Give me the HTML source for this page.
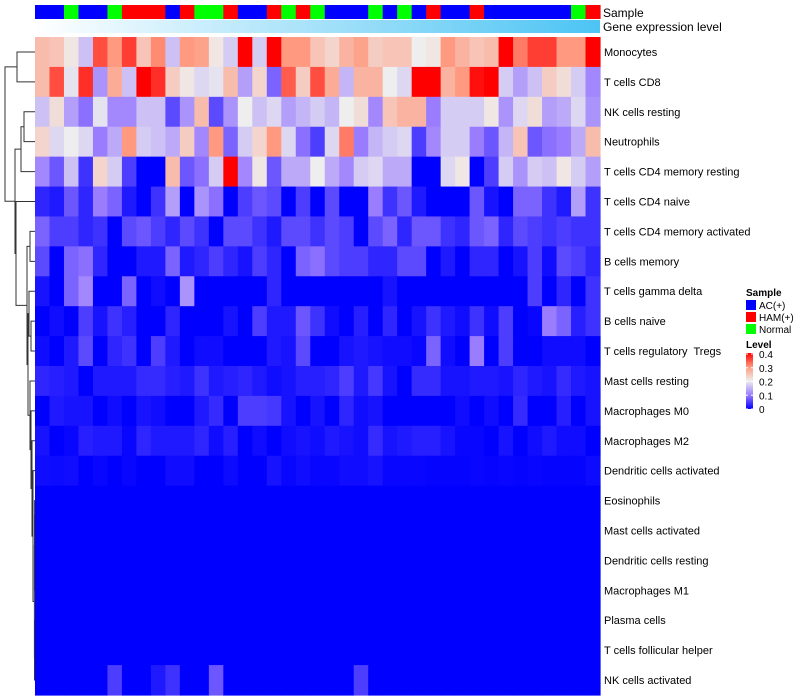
<!DOCTYPE html>
<html><head><meta charset="utf-8"><style>
body{margin:0;background:#fff;width:800px;height:700px;overflow:hidden;font-family:"Liberation Sans",sans-serif}
svg{display:block}
text{white-space:pre}
</style></head><body>
<svg id="chart" width="800" height="700" xmlns="http://www.w3.org/2000/svg">
<defs>
<linearGradient id="geneGrad" x1="0" x2="1" y1="0" y2="0"><stop offset="0" stop-color="#ffffff"/><stop offset="1" stop-color="#4cc4f4"/></linearGradient>
<linearGradient id="levelGrad" x1="0" x2="0" y1="1" y2="0"><stop offset="0" stop-color="#0000ff"/><stop offset="0.25" stop-color="#9a7cff"/><stop offset="0.5" stop-color="#eeeeee"/><stop offset="0.75" stop-color="#ff9a80"/><stop offset="1" stop-color="#ff0000"/></linearGradient>
</defs>
<g id="dendroG"></g>
<g id="cellsG"></g>
<g id="samplebarG"></g>
<rect x="35" y="20" width="565" height="13" fill="url(#geneGrad)"/>
<text x="603" y="17" font-size="12">Sample</text>
<text x="603" y="31" font-size="12">Gene expression level</text>
<g id="rowlabelsG"></g>
<g font-size="10">
<text x="746" y="296" font-weight="bold">Sample</text>
<rect x="746" y="300" width="10" height="10" fill="#0000ff"/>
<text x="759" y="309">AC(+)</text>
<rect x="746" y="312" width="10" height="10" fill="#ff0000"/>
<text x="759" y="321">HAM(+)</text>
<rect x="746" y="324" width="10" height="10" fill="#00ff00"/>
<text x="759" y="333">Normal</text>
<text x="746" y="348" font-weight="bold">Level</text>
<rect x="746" y="353" width="7" height="56" fill="url(#levelGrad)"/>
<g id="levelticksG"></g>
</g>
</svg>
<script>
const rowNames=["Monocytes","T cells CD8","NK cells resting","Neutrophils","T cells CD4 memory resting","T cells CD4 naive","T cells CD4 memory activated","B cells memory","T cells gamma delta","B cells naive","T cells regulatory  Tregs","Mast cells resting","Macrophages M0","Macrophages M2","Dendritic cells activated","Eosinophils","Mast cells activated","Dendritic cells resting","Macrophages M1","Plasma cells","T cells follicular helper","NK cells activated"];
const sampleGroups="AANAANHHHAHNNHAAHNHNAAANANAHAAHAAAAAANH".split("");
const levelTicks=[0,0.1,0.2,0.3,0.4];
const v0=[0.26,0.25,0.21,0.16,0.35,0.3,0.36,0.25,0.31,0.16,0.3,0.29,0.21,0.17,0.4,0.17,0.4,0.3,0.3,0.25,0.23,0.27,0.29,0.24,0.25,0.25,0.2,0.21,0.3,0.27,0.25,0.26,0.4,0.32,0.36,0.36,0.3,0.3,0.4];
const v1=[0.26,0.35,0.19,0.37,0.12,0.28,0.16,0.4,0.37,0.24,0.21,0.18,0.19,0.26,0.13,0.23,0.08,0.34,0.24,0.35,0.28,0.15,0.27,0.27,0.2,0.18,0.4,0.4,0.27,0.3,0.39,0.4,0.17,0.13,0.16,0.24,0.22,0.17,0.11];
const v2=[0.16,0.22,0.13,0.09,0.19,0.11,0.11,0.16,0.16,0.06,0.12,0.26,0.06,0.12,0.2,0.16,0.18,0.13,0.15,0.17,0.15,0.2,0.22,0.11,0.25,0.27,0.27,0.1,0.17,0.17,0.17,0.21,0.12,0.18,0.22,0.13,0.14,0.18,0.12];
const v3=[0.23,0.18,0.2,0.18,0.1,0.14,0.3,0.17,0.16,0.14,0.24,0.11,0.3,0.08,0.17,0.23,0.3,0.18,0.09,0.05,0.18,0.32,0.1,0.15,0.17,0.18,0.05,0.11,0.17,0.17,0.1,0.07,0.15,0.25,0.07,0.09,0.1,0.14,0.26];
const v4=[0.11,0.07,0.16,0.04,0.23,0.17,0.05,0,0,0.26,0.07,0.09,0.17,0.4,0.11,0.21,0.07,0.14,0.14,0.2,0.14,0.11,0.17,0.18,0.14,0.14,0,0,0.18,0.21,0,0.05,0.17,0.12,0.17,0.16,0.21,0.17,0.13];
const v5=[0.03,0.02,0.07,0.03,0.1,0.08,0.02,0,0.04,0.13,0,0.12,0.09,0,0.05,0.07,0.06,0,0.05,0,0.06,0,0,0.1,0.04,0.07,0.02,0,0,0,0.07,0.015,0,0.08,0.08,0.04,0.02,0.13,0.04];
const v6=[0.08,0.05,0.05,0.03,0.04,0,0.06,0.07,0.05,0.03,0.06,0.04,0,0.06,0.06,0.04,0.02,0.06,0.06,0.04,0.06,0.05,0,0.06,0.08,0.03,0.07,0.07,0.04,0.03,0.07,0.08,0.03,0.06,0.05,0.04,0.05,0.04,0.04];
const v7=[0.06,0,0.08,0.09,0.03,0,0,0.02,0.02,0.08,0.02,0.03,0.05,0.03,0.015,0.05,0.03,0,0.08,0.09,0.06,0.05,0.05,0.03,0.03,0.06,0.06,0,0.02,0,0.03,0.03,0,0.015,0.05,0.01,0.06,0.05,0.03];
const v8=[0.015,0,0.08,0.11,0,0,0.08,0,0.01,0,0.12,0,0,0,0,0,0.03,0,0,0,0,0,0,0,0.015,0,0,0,0,0,0,0,0,0,0.05,0,0.03,0,0.04];
const v9=[0,0.01,0,0.05,0.015,0.04,0.025,0,0,0.03,0,0,0,0.015,0,0.05,0.02,0.02,0.07,0.04,0.01,0,0.025,0,0.03,0,0.015,0.04,0.02,0.01,0.04,0.01,0.05,0,0.005,0.1,0.08,0.025,0.04];
const v10=[0.01,0,0.02,0.06,0,0.03,0.04,0,0.05,0.02,0,0.01,0.01,0,0,0,0.02,0.015,0.06,0,0,0.015,0.02,0.015,0.01,0.01,0.005,0.08,0.01,0,0.1,0,0.05,0,0,0.01,0.01,0.01,0];
const v11=[0.03,0.025,0.02,0,0.02,0.02,0.02,0.035,0.035,0.025,0.02,0.04,0.02,0.025,0.03,0.02,0.01,0.015,0.025,0.025,0.03,0.05,0.02,0.045,0.015,0,0.035,0.035,0.015,0.015,0.02,0.02,0.015,0.03,0.02,0.015,0.035,0.02,0.015];
const v12=[0,0.02,0.015,0.015,0,0.01,0,0.015,0.01,0,0,0.02,0.035,0,0.05,0.05,0.045,0.015,0,0.015,0,0.03,0.01,0.015,0,0,0,0,0,0.01,0,0.01,0,0.035,0,0,0.025,0,0.015];
const v13=[0.015,0,0.005,0.025,0.02,0.02,0.005,0.03,0.02,0.02,0.02,0.03,0.01,0.025,0,0.01,0,0.01,0.015,0.01,0.02,0.015,0.01,0.035,0.015,0.02,0.025,0.025,0.015,0.005,0.005,0,0.015,0,0.01,0.02,0.01,0.01,0];
const v14=[0.01,0.008,0.01,0,0.005,0,0.005,0,0,0.01,0.01,0,0,0.008,0,0,0.015,0.005,0.01,0.005,0.005,0.01,0.01,0.015,0.005,0.005,0.005,0.003,0.003,0.003,0.005,0.003,0.005,0.003,0.005,0.003,0.003,0.003,0.008];
const zeroRow=[0,0,0,0,0,0,0,0,0,0,0,0,0,0,0,0,0,0,0,0,0,0,0,0,0,0,0,0,0,0,0,0,0,0,0,0,0,0,0];
const v21=[0,0,0,0,0,0.05,0,0,0.02,0.04,0,0,0.07,0,0,0,0,0,0,0,0,0,0.05,0,0,0,0,0,0,0,0,0,0,0,0,0,0,0,0];
const heatValues=[v0,v1,v2,v3,v4,v5,v6,v7,v8,v9,v10,v11,v12,v13,v14,zeroRow,zeroRow,zeroRow,zeroRow,zeroRow,zeroRow,v21];

const SVGNS="http://www.w3.org/2000/svg";
const X0=35,X1=600,Y0=37,Y1=695;
const nCol=sampleGroups.length,nRow=rowNames.length;
const cw=(X1-X0)/nCol,rh=(Y1-Y0)/nRow;
function xPos(i){return X0+i*cw;}
function yPos(r){return Y0+r*rh;}
const colorStops=[[0,[0,0,255]],[0.1,[154,124,255]],[0.2,[238,238,238]],[0.3,[255,154,128]],[0.4,[255,0,0]]];
function colorScale(v){
  v=Math.max(0,Math.min(0.4,v));
  for(let k=0;k<colorStops.length-1;k++){
    const a=colorStops[k][0],ca=colorStops[k][1],b=colorStops[k+1][0],cb=colorStops[k+1][1];
    if(v<=b){const t=(v-a)/(b-a);return "rgb("+ca.map(function(c,j){return Math.round(c+(cb[j]-c)*t);}).join(",")+")";}
  }
  return "rgb(255,0,0)";
}
function mk(tag,attrs,parent){const e=document.createElementNS(SVGNS,tag);for(const k in attrs)e.setAttribute(k,attrs[k]);parent.appendChild(e);return e;}
const cellsG=document.getElementById("cellsG");
heatValues.forEach(function(row,r){row.forEach(function(v,c){
  const el=mk("rect",{x:xPos(c).toFixed(2),y:yPos(r).toFixed(2),width:(cw+0.6).toFixed(2),height:(rh+0.6).toFixed(2),fill:colorScale(v)},cellsG);
  
  
});});
const groupColor={A:"#0000ff",H:"#ff0000",N:"#00ff00"};
const sbG=document.getElementById("samplebarG");
sampleGroups.forEach(function(g,c){
  const el=mk("rect",{x:xPos(c).toFixed(2),y:5,width:(cw+0.6).toFixed(2),height:14,fill:groupColor[g]},sbG);
  
  
});
const rlG=document.getElementById("rowlabelsG");
rowNames.forEach(function(n,r){
  const el=mk("text",{x:604,y:(yPos(r)+rh/2+4).toFixed(1),"font-size":"11",fill:"#000"},rlG);
  el.textContent=n;
  
  
});
const ltG=document.getElementById("levelticksG");
levelTicks.forEach(function(t){
  const y=409-t/0.4*55;
  mk("line",{x1:746,x2:748,y1:y,y2:y,stroke:"#fff","stroke-width":1},ltG);
  mk("line",{x1:751,x2:753,y1:y,y2:y,stroke:"#fff","stroke-width":1},ltG);
  const el=mk("text",{x:759,y:(y+4).toFixed(1),"font-size":"10"},ltG);
  el.textContent=String(t);
  
  
});
// dendrogram nodes: [left, right, x-position of join]
const nodeZ=[[[15,16,34.6],[17,18,34.6],34.5],[[19,20,34.6],21,34.5],34.4];
const node14=[14,nodeZ,33];
const node13=[13,node14,32];
const node12=[12,node13,31];
const node11=[11,node12,30];
const nodeM=[[8,[9,10,31],29],node11,28];
const nodeF=[[6,7,30],nodeM,27];
const nodeE=[5,nodeF,16];
const nodeC=[[2,3,24],4,21];
const nodeG=[nodeC,nodeE,15];
const rootNode=[[0,1,17],nodeG,5];
const dG=document.getElementById("dendroG");
function drawNode(node){
  if(typeof node==="number")return {x:35,y:yPos(node)+rh/2};
  const a=drawNode(node[0]),b=drawNode(node[1]),h=node[2];
  mk("path",{d:"M"+a.x+","+a.y+"H"+h+"V"+b.y+"H"+b.x,fill:"none",stroke:"#333","stroke-width":1},dG);
  return {x:h,y:(a.y+b.y)/2};
}
drawNode(rootNode);
</script>
</body></html>
